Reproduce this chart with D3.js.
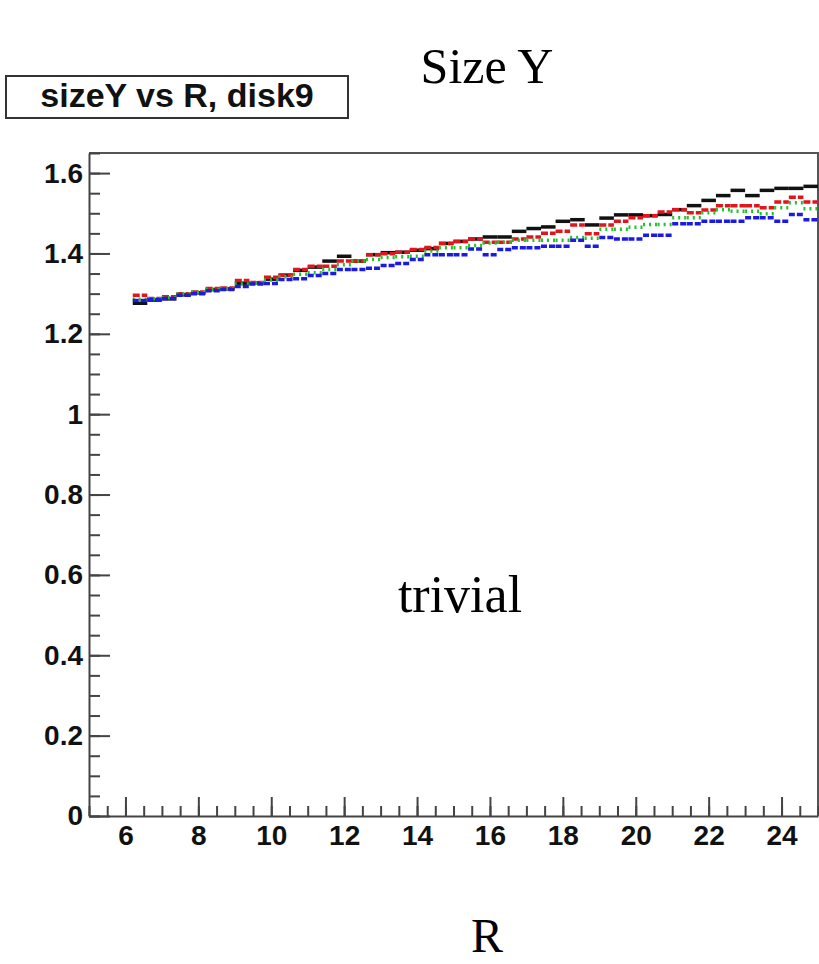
<!DOCTYPE html>
<html>
<head>
<meta charset="utf-8">
<script src="https://cdn.jsdelivr.net/npm/d3@7"></script>
<style>
  body { margin: 0; background: #fff; }
  svg { display: block; }
</style>
</head>
<body>
<div class="chart-container"></div>
<script>
// bin centres in R (bin width 0.4)
let rBins = [6.4, 6.8, 7.2, 7.6, 8.0, 8.4, 8.8, 9.2, 9.6, 10.0,
  10.4, 10.8, 11.2, 11.6, 12.0, 12.4, 12.8, 13.2, 13.6, 14.0,
  14.4, 14.8, 15.2, 15.6, 16.0, 16.4, 16.8, 17.2, 17.6, 18.0,
  18.4, 18.8, 19.2, 19.6, 20.0, 20.4, 20.8, 21.2, 21.6, 22.0,
  22.4, 22.8, 23.2, 23.6, 24.0, 24.4, 24.8]
let binWidth = 0.4

let blackVals = [1.276, 1.284, 1.287, 1.297, 1.302, 1.310, 1.312, 1.326, 1.327, 1.336,
  1.346, 1.358, 1.366, 1.381, 1.393, 1.381, 1.397, 1.402, 1.403, 1.408,
  1.412, 1.425, 1.430, 1.436, 1.441, 1.441, 1.455, 1.462, 1.466, 1.480,
  1.484, 1.471, 1.488, 1.496, 1.496, 1.494, 1.497, 1.509, 1.519, 1.532,
  1.544, 1.557, 1.544, 1.557, 1.562, 1.562, 1.567]
let redVals = [1.296, 1.288, 1.292, 1.300, 1.304, 1.313, 1.314, 1.333, 1.328, 1.341,
  1.346, 1.360, 1.368, 1.368, 1.381, 1.381, 1.397, 1.399, 1.403, 1.410,
  1.415, 1.425, 1.430, 1.436, 1.428, 1.428, 1.436, 1.441, 1.450, 1.455,
  1.471, 1.449, 1.471, 1.480, 1.489, 1.494, 1.503, 1.509, 1.501, 1.508,
  1.519, 1.519, 1.519, 1.514, 1.528, 1.540, 1.528]
let greenVals = [1.286, 1.287, 1.290, 1.300, 1.304, 1.311, 1.313, 1.324, 1.327, 1.334,
  1.342, 1.348, 1.352, 1.360, 1.372, 1.381, 1.385, 1.390, 1.392, 1.393,
  1.406, 1.414, 1.414, 1.420, 1.426, 1.428, 1.433, 1.433, 1.433, 1.433,
  1.440, 1.438, 1.460, 1.460, 1.465, 1.472, 1.472, 1.489, 1.489, 1.501,
  1.509, 1.505, 1.505, 1.499, 1.514, 1.526, 1.511]
let blueVals = [1.283, 1.285, 1.288, 1.296, 1.300, 1.307, 1.310, 1.318, 1.324, 1.325,
  1.335, 1.337, 1.345, 1.350, 1.360, 1.360, 1.363, 1.370, 1.375, 1.385,
  1.397, 1.397, 1.397, 1.411, 1.397, 1.410, 1.414, 1.414, 1.418, 1.418,
  1.433, 1.418, 1.440, 1.436, 1.436, 1.445, 1.445, 1.474, 1.474, 1.480,
  1.480, 1.480, 1.489, 1.489, 1.480, 1.497, 1.484]

let xTicks = [6, 8, 10, 12, 14, 16, 18, 20, 22, 24]
let yTicks = [0, 0.2, 0.4, 0.6, 0.8, 1, 1.2, 1.4, 1.6]

let series = [
  { name: 'black', values: blackVals, color: '#111111', dash: null },
  { name: 'red', values: redVals, color: '#e0161c', dash: '7,2' },
  { name: 'green', values: greenVals, color: '#22c22a', dash: '2,4' },
  { name: 'blue', values: blueVals, color: '#1a1ae0', dash: '6,2' }
]

let width = 819,
    height = 964,
    margin = { top: 153, right: 1, bottom: 148, left: 89 }

let x = d3.scaleLinear()
  .domain([5, 25])
  .range([margin.left, width - margin.right])

let y = d3.scaleLinear()
  .domain([0, 1.65])
  .range([height - margin.bottom, margin.top])

let svg = d3.select('.chart-container')
  .append('svg')
  .attr('width', width)
  .attr('height', height)

// frame (top and right)
svg.append('path')
  .attr('d', `M${x(5)},${y(1.65)}H${x(25)}V${y(0)}`)
  .attr('fill', 'none')
  .attr('stroke', '#555')
  .attr('stroke-width', 2)

// minor ticks
svg.append('g')
  .attr('transform', `translate(0,${y(0)})`)
  .call(d3.axisBottom(x).tickValues(d3.range(5, 25.01, 0.5)).tickSize(-10).tickSizeOuter(0).tickFormat(''))
  .call(g => g.select('.domain').remove())
svg.append('g')
  .attr('transform', `translate(${x(5)},0)`)
  .call(d3.axisLeft(y).tickValues(d3.range(0, 1.651, 0.05)).tickSize(-11).tickSizeOuter(0).tickFormat(''))
  .call(g => g.select('.domain').remove())

// major axes
svg.append('g')
  .attr('transform', `translate(0,${y(0)})`)
  .call(d3.axisBottom(x).tickValues(xTicks).tickSize(-19).tickSizeOuter(0).tickPadding(9).tickFormat(d3.format('d')))
svg.append('g')
  .attr('transform', `translate(${x(5)},0)`)
  .call(d3.axisLeft(y).tickValues(yTicks).tickSize(-21).tickSizeOuter(0).tickPadding(6).tickFormat(d => d))

svg.selectAll('.tick line, .domain')
  .attr('stroke', '#444')
  .attr('stroke-width', 2)

svg.selectAll('.tick text')
  .attr('fill', '#111')
  .style('font-family', '"Liberation Sans", Arial, sans-serif')
  .style('font-weight', 'bold')
  .style('font-size', '28px')

// histograms drawn as horizontal bin segments
let segs = svg.append('g')
series.forEach(s => {
  segs.append('g')
    .selectAll('line')
    .data(rBins.map((r, i) => ({ r: r, v: s.values[i] })))
    .enter()
    .append('line')
    .attr('x1', d => x(d.r - binWidth / 2))
    .attr('x2', d => x(d.r + binWidth / 2))
    .attr('y1', d => y(d.v))
    .attr('y2', d => y(d.v))
    .attr('stroke', s.color)
    .attr('stroke-width', 3.5)
    .attr('stroke-dasharray', s.dash)
})

// title box
svg.append('rect')
  .attr('x', 6)
  .attr('y', 76)
  .attr('width', 342)
  .attr('height', 42)
  .attr('fill', '#fff')
  .attr('stroke', '#333')
  .attr('stroke-width', 2)
svg.append('text')
  .attr('x', 177)
  .attr('y', 107)
  .attr('text-anchor', 'middle')
  .style('font-family', '"Liberation Sans", Arial, sans-serif')
  .style('font-weight', 'bold')
  .style('font-size', '34px')
  .attr('fill', '#111')
  .text('sizeY vs R, disk9')

// serif annotations
let serif = '"Liberation Serif", "Times New Roman", serif'
svg.append('text')
  .attr('x', 487).attr('y', 83)
  .attr('text-anchor', 'middle')
  .style('font-family', serif).style('font-size', '50px')
  .text('Size Y')
svg.append('text')
  .attr('x', 460).attr('y', 612)
  .attr('text-anchor', 'middle')
  .style('font-family', serif).style('font-size', '52px')
  .text('trivial')
svg.append('text')
  .attr('x', 487).attr('y', 952)
  .attr('text-anchor', 'middle')
  .style('font-family', serif).style('font-size', '48px')
  .text('R')
</script>
</body>
</html>
